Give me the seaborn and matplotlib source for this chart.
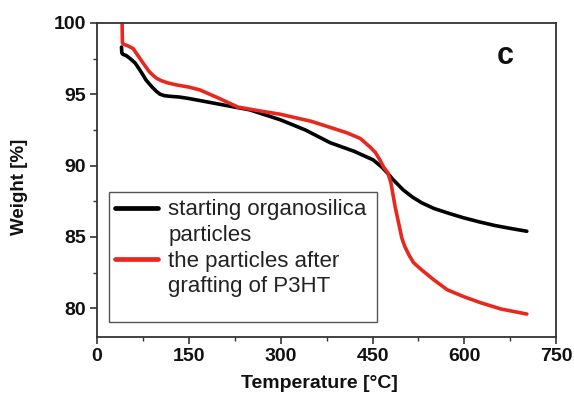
import matplotlib
matplotlib.use("Agg")
import matplotlib.pyplot as plt
import seaborn as sns
import pandas as pd
from matplotlib.ticker import MultipleLocator
from matplotlib.lines import Line2D
from matplotlib.patches import Rectangle

sns.set_theme(style="ticks")
plt.rcParams['font.family'] = ['Liberation Sans', 'DejaVu Sans']

# Data
temp_black = [40, 40.5, 42, 48, 54, 62, 70, 80, 90, 97, 103, 110, 120, 135, 150, 200, 250, 300,
              340, 381, 420, 451, 465, 475, 484, 500, 515, 530, 550, 575, 598, 625, 650, 675, 702]
weight_black = [98.3, 97.9, 97.8, 97.7, 97.5, 97.2, 96.7, 96.0, 95.5, 95.2, 95.0, 94.9, 94.85,
                94.8, 94.7, 94.3, 93.9, 93.2, 92.5, 91.6, 91.0, 90.4, 89.9, 89.45, 89.0, 88.3,
                87.8, 87.4, 87.0, 86.65, 86.35, 86.05, 85.8, 85.6, 85.4]
temp_red = [41, 41.5, 43, 50, 59, 67, 75, 85, 92, 98, 105, 115, 130, 150, 168, 200, 230, 250,
            270, 299, 350, 408, 430, 446, 455, 462, 468, 475, 480, 487, 493, 498, 503, 510, 517,
            530, 550, 572, 600, 626, 660, 702]
weight_red = [100.0, 98.6, 98.5, 98.4, 98.2, 97.7, 97.2, 96.6, 96.3, 96.1, 95.95, 95.8, 95.65,
              95.5, 95.3, 94.7, 94.1, 93.95, 93.8, 93.6, 93.1, 92.3, 91.9, 91.3, 90.9, 90.4,
              89.9, 89.5, 88.8, 87.1, 85.9, 84.9, 84.3, 83.7, 83.2, 82.7, 82.0, 81.3, 80.8, 80.4,
              79.95, 79.6]

label_black = "starting organosilica\nparticles"
label_red = "the particles after\ngrafting of P3HT"

df = pd.concat([
    pd.DataFrame({"T": temp_black, "W": weight_black, "s": label_black}),
    pd.DataFrame({"T": temp_red, "W": weight_red, "s": label_red}),
])

fig = plt.figure(figsize=(5.74, 3.94), dpi=100)
ax = fig.add_axes([0.169, 0.145, 0.800, 0.797])
sns.lineplot(data=df, x="T", y="W", hue="s", sort=False, estimator=None,
             palette={label_black: "#000000", label_red: "#e8281e"},
             linewidth=2.6, ax=ax)

ax.set_xlim(0, 750)
ax.set_ylim(78, 100)
ax.xaxis.set_major_locator(MultipleLocator(150))
ax.xaxis.set_minor_locator(MultipleLocator(75))
ax.yaxis.set_major_locator(MultipleLocator(5))
ax.yaxis.set_minor_locator(MultipleLocator(2.5))
ax.tick_params(which="major", direction="out", length=5, width=1.2, labelsize=14,
               colors="#333333", pad=3)
ax.tick_params(which="minor", direction="out", length=3, width=1.0, colors="#333333")
for lab in ax.get_xticklabels() + ax.get_yticklabels():
    lab.set_fontweight("bold")
    lab.set_color("#111111")
for sp in ax.spines.values():
    sp.set_visible(True)
    sp.set_linewidth(1.3)
    sp.set_color("#333333")

ax.set_xlabel("Temperature [°C]", fontsize=14, fontweight="bold", color="#111111")
ax.set_ylabel("Weight [%]", fontsize=13.5, fontweight="bold", color="#111111")
ax.xaxis.set_label_coords(0.484, -0.121)
ax.yaxis.set_label_coords(-0.150, 0.479)
ax.text(0.889, 0.893, "c", transform=ax.transAxes, fontsize=22, fontweight="bold",
        ha="center", va="center", color="#111111")

# legend: handle aligned with the first line of each label, drawn inside a box
handles, labels = ax.get_legend_handles_labels()
blank = Line2D([], [], color="none")
leg_handles, leg_labels = [], []
for h, l in zip(handles, labels):
    first, second = l.split("\n")
    leg_handles += [h, blank]
    leg_labels += [first, second]
leg = ax.legend(leg_handles, leg_labels, loc="upper left", bbox_to_anchor=(0.039, 0.438),
                fontsize=16, frameon=False, handlelength=1.95, handletextpad=0.45,
                borderpad=0.0, labelspacing=0.21, borderaxespad=0.0)
for t in leg.get_texts():
    t.set_color("#222222")
for h in leg.get_lines():
    h.set_linewidth(3.4)
ax.add_patch(Rectangle((0.026, 0.048), 0.584, 0.414, transform=ax.transAxes,
                       fill=False, edgecolor="#555555", linewidth=1.0, zorder=5))

fig.savefig("out.png", dpi=100)
